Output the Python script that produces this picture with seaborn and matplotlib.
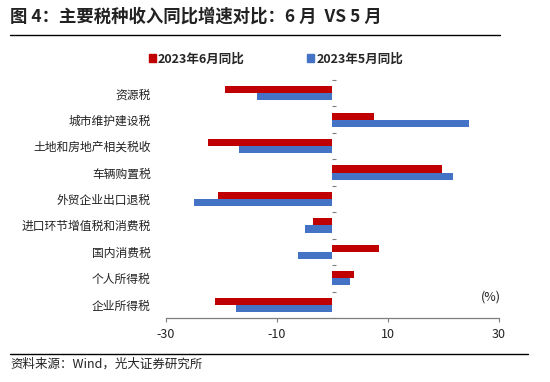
import matplotlib
matplotlib.use("Agg")
import matplotlib.pyplot as plt
import seaborn as sns
import pandas as pd
from matplotlib.lines import Line2D

categories = ["资源税", "城市维护建设税", "土地和房地产相关税收", "车辆购置税",
              "外贸企业出口退税", "进口环节增值税和消费税", "国内消费税",
              "个人所得税", "企业所得税"]
series_names = ["2023年6月同比", "2023年5月同比"]
jun_values = [-19.4, 7.6, -22.4, 19.7, -20.6, -3.5, 8.4, 3.9, -21.1]
may_values = [-13.5, 24.7, -16.9, 21.7, -25.0, -4.9, -6.2, 3.1, -17.3]
x_ticks = [-30, -10, 10, 30]
colors = ["#C00000", "#4472C4"]

sns.set_theme(style="white")
plt.rcParams['font.family'] = ['Noto Sans CJK SC', 'DejaVu Sans']

df = pd.DataFrame({
    "cat": categories * 2,
    "value": jun_values + may_values,
    "series": [series_names[0]] * len(categories) + [series_names[1]] * len(categories),
})

fig = plt.figure(figsize=(5.5, 3.82), dpi=100)
ax = fig.add_axes([166 / 550, 1 - 318 / 382, 332.7 / 550, 238 / 382])

sns.barplot(data=df, x="value", y="cat", hue="series", palette=colors,
            order=categories, hue_order=series_names, orient="h",
            width=0.54, ax=ax, legend=False, saturation=1, linewidth=0)

ax.set_xlim(-30, 30)
ax.set_ylim(len(categories) - 0.5, -0.5)
ax.set_xlabel("")
ax.set_ylabel("")
ax.set_xticks(x_ticks)
ax.set_xticklabels([str(t) for t in x_ticks], fontsize=9, color="#222222")
ax.tick_params(axis="x", length=3, width=0.8, color="#7f7f7f", pad=4, direction="out", bottom=True)
ax.tick_params(axis="y", length=0, pad=11, labelsize=8.5, labelcolor="#222222")
for s in ["top", "right", "left"]:
    ax.spines[s].set_visible(False)
ax.spines["bottom"].set_color("#7f7f7f")
ax.spines["bottom"].set_linewidth(0.9)

# zero axis with category boundary ticks
sec = ax.secondary_yaxis(0.5)
sec.set_yticks([i + 0.5 for i in range(-1, len(categories))])
sec.set_yticklabels([])
sec.tick_params(axis="y", length=3, width=0.8, color="#7f7f7f", direction="out")
sec.spines["left"].set_color("#7f7f7f")
sec.spines["left"].set_linewidth(0.9)
sec.spines["right"].set_visible(False)

ax.text(0.976, 0.09, "(%)", transform=ax.transAxes, ha="center", va="center",
        fontsize=9, color="#222222")

# title, rules, source
fig.text(10 / 550, 1 - 17 / 382, "图 4：主要税种收入同比增速对比：6 月  VS 5 月",
         fontsize=12.5, fontweight="bold", ha="left", va="center", color="#222222")
fig.add_artist(Line2D([10 / 550, 500 / 550], [1 - 35 / 382, 1 - 35 / 382],
                      color="black", linewidth=1.0))
fig.add_artist(Line2D([10 / 550, 528 / 550], [1 - 354 / 382, 1 - 354 / 382],
                      color="black", linewidth=1.0))
fig.text(10 / 550, 1 - 364.5 / 382, "资料来源：Wind，光大证券研究所",
         fontsize=9, ha="left", va="center", color="#222222")

# legend
handles = [plt.Rectangle((0, 0), 1, 1, color=c) for c in colors]
fig.legend(handles, series_names, loc="center", bbox_to_anchor=(276 / 550, 1 - 59 / 382),
           ncol=2, frameon=False, handlelength=0.55, handleheight=0.55, handletextpad=0.2,
           columnspacing=5.0, prop={"size": 9, "weight": "bold"})

fig.savefig("out.png", dpi=100)
